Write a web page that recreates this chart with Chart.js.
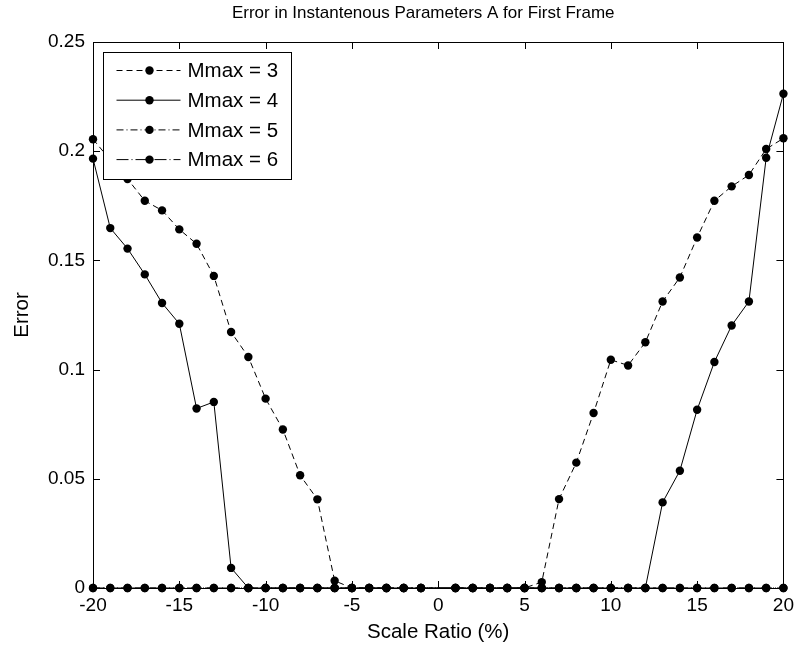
<!DOCTYPE html>
<html>
<head>
<meta charset="utf-8">
<script src="https://cdn.jsdelivr.net/npm/chart.js@4/dist/chart.umd.min.js"></script>
<style>
    html, body {
        margin: 0;
        padding: 0;
        background: #ffffff;
    }

    #wrap {
        width: 800px;
        height: 648px;
    }
</style>
</head>
<body>
<div id="wrap">
    <canvas id="errorChart" width="800" height="648"></canvas>
</div>
<script>
const scaleRatio = [
    -20, -19, -18, -17, -16, -15, -14, -13, -12, -11,
    -10, -9, -8, -7, -6, -5, -4, -3, -2, -1,
    1, 2, 3, 4, 5, 6, 7, 8, 9, 10,
    11, 12, 13, 14, 15, 16, 17, 18, 19, 20
];

const mmax3 = [
    0.2055, 0.196, 0.1873, 0.1773, 0.1729, 0.1642, 0.1576, 0.1429, 0.1172, 0.1058,
    0.0867, 0.0726, 0.0516, 0.0406, 0.0033, 0, 0, 0, 0, 0,
    0, 0, 0, 0, 0, 0.0027, 0.0407, 0.0574, 0.0801, 0.1045,
    0.1019, 0.1125, 0.1312, 0.1422, 0.1605, 0.1773, 0.1839, 0.1891, 0.2010, 0.2059
];

const mmax4 = [
    0.1966, 0.1648, 0.1554, 0.1436, 0.1305, 0.1210, 0.0822, 0.0852, 0.0092, 0,
    0, 0, 0, 0, 0, 0, 0, 0, 0, 0,
    0, 0, 0, 0, 0, 0, 0, 0, 0, 0,
    0, 0, 0.0392, 0.0537, 0.0816, 0.1035, 0.1202, 0.1312, 0.1970, 0.2263
];

const mmax5 = [
    0, 0, 0, 0, 0, 0, 0, 0, 0, 0,
    0, 0, 0, 0, 0, 0, 0, 0, 0, 0,
    0, 0, 0, 0, 0, 0, 0, 0, 0, 0,
    0, 0, 0, 0, 0, 0, 0, 0, 0, 0
];

const mmax6 = [
    0, 0, 0, 0, 0, 0, 0, 0, 0, 0,
    0, 0, 0, 0, 0, 0, 0, 0, 0, 0,
    0, 0, 0, 0, 0, 0, 0, 0, 0, 0,
    0, 0, 0, 0, 0, 0, 0, 0, 0, 0
];

const seriesLabels = ["Mmax = 3", "Mmax = 4", "Mmax = 5", "Mmax = 6"];

const xTicks = [-20, -15, -10, -5, 0, 5, 10, 15, 20];
const xTickLabels = ["-20", "-15", "-10", "-5", "0", "5", "10", "15", "20"];

const yTicks = [0, 0.05, 0.1, 0.15, 0.2, 0.25];
const yTickLabels = ["0", "0.05", "0.1", "0.15", "0.2", "0.25"];

const FONT = "'Liberation Sans', Arial, Helvetica, sans-serif";
const TICK_SIZE = 19;
const LABEL_SIZE = 20.5;
const TITLE_SIZE = 17;
const LEGEND_SIZE = 20.5;

function toPoints(values) {
    return values.map((v, i) => ({ x: scaleRatio[i], y: v }));
}

function makeDataset(label, values, dash) {
    return {
        label: label,
        data: toPoints(values),
        borderColor: "#000000",
        backgroundColor: "#000000",
        borderWidth: 1,
        borderDash: dash,
        pointRadius: 4.2,
        pointHoverRadius: 4.2,
        pointBackgroundColor: "#000000",
        pointBorderColor: "#000000",
        pointBorderWidth: 0,
        tension: 0,
        clip: false
    };
}

// title in the reference sits a little left of the axes centre
const titleShiftPlugin = {
    id: "titleShift",
    afterLayout(chart) {
        if (chart.titleBlock) {
            chart.titleBlock.left = chart.chartArea.left - 30;
        }
    }
};

// matlab-style box, inward ticks on all four sides
const boxPlugin = {
    id: "matlabBox",
    afterDatasetsDraw(chart) {
        const ctx = chart.ctx;
        const area = chart.chartArea;
        const xs = chart.scales.x;
        const ys = chart.scales.y;
        const len = 7;

        ctx.save();
        ctx.strokeStyle = "#000000";
        ctx.lineWidth = 1;
        ctx.setLineDash([]);

        ctx.beginPath();
        xTicks.forEach(v => {
            const px = Math.round(xs.getPixelForValue(v)) + 0.5;
            ctx.moveTo(px, area.bottom);
            ctx.lineTo(px, area.bottom - len);
            ctx.moveTo(px, area.top);
            ctx.lineTo(px, area.top + len);
        });
        yTicks.forEach(v => {
            const py = Math.round(ys.getPixelForValue(v)) + 0.5;
            ctx.moveTo(area.left, py);
            ctx.lineTo(area.left + len, py);
            ctx.moveTo(area.right, py);
            ctx.lineTo(area.right - len, py);
        });
        ctx.stroke();

        ctx.strokeRect(
            Math.round(area.left) + 0.5,
            Math.round(area.top) + 0.5,
            Math.round(area.right - area.left),
            Math.round(area.bottom - area.top)
        );
        ctx.restore();
    }
};

// legend box drawn inside the axes, top left, like matlab
const legendPlugin = {
    id: "insideLegend",
    afterDraw(chart) {
        const ctx = chart.ctx;
        const area = chart.chartArea;
        const boxX = area.left + 10.5;
        const boxY = area.top + 10.5;
        const boxW = 188;
        const boxH = 127;
        const rowH = 29.7;

        ctx.save();
        ctx.fillStyle = "#ffffff";
        ctx.fillRect(boxX, boxY, boxW, boxH);
        ctx.strokeStyle = "#000000";
        ctx.lineWidth = 1;
        ctx.setLineDash([]);
        ctx.strokeRect(boxX, boxY, boxW, boxH);

        chart.data.datasets.forEach((ds, i) => {
            const cy = boxY + 18 + i * rowH;
            const x0 = boxX + 13;
            const x1 = boxX + 77;
            const xm = boxX + 46;

            ctx.strokeStyle = ds.borderColor;
            ctx.lineWidth = ds.borderWidth;
            ctx.setLineDash(ds.borderDash || []);
            ctx.beginPath();
            ctx.moveTo(x0, cy);
            ctx.lineTo(x1, cy);
            ctx.stroke();

            ctx.setLineDash([]);
            ctx.fillStyle = ds.pointBackgroundColor;
            ctx.beginPath();
            ctx.arc(xm, cy, ds.pointRadius, 0, Math.PI * 2);
            ctx.fill();

            ctx.fillStyle = "#000000";
            ctx.font = LEGEND_SIZE + "px " + FONT;
            ctx.textAlign = "left";
            ctx.textBaseline = "middle";
            ctx.fillText(seriesLabels[i], boxX + 84, cy + 1);
        });
        ctx.restore();
    }
};

function createChart() {
    const canvas = document.getElementById("errorChart");

    Chart.defaults.font.family = FONT;
    Chart.defaults.font.size = TICK_SIZE;
    Chart.defaults.color = "#000000";

    new Chart(canvas, {
        type: "line",
        data: {
            datasets: [
                makeDataset(seriesLabels[0], mmax3, [6, 4]),
                makeDataset(seriesLabels[1], mmax4, []),
                makeDataset(seriesLabels[2], mmax5, [7, 3, 1, 3]),
                makeDataset(seriesLabels[3], mmax6, [12, 3, 1, 3])
            ]
        },
        options: {
            responsive: false,
            animation: false,
            devicePixelRatio: 1,
            layout: {
                padding: { left: 0, right: 14, top: 0, bottom: 0 }
            },
            plugins: {
                legend: { display: false },
                tooltip: { enabled: false },
                title: {
                    display: true,
                    fullSize: false,
                    text: "Error in Instantenous Parameters A for First Frame",
                    color: "#000000",
                    font: { size: TITLE_SIZE, weight: "normal" },
                    padding: { top: 3, bottom: 18.6 }
                }
            },
            scales: {
                x: {
                    type: "linear",
                    min: -20,
                    max: 20,
                    afterBuildTicks: scale => {
                        scale.ticks = xTicks.map(v => ({ value: v }));
                    },
                    afterFit: scale => {
                        scale.height = 60;
                    },
                    ticks: {
                        padding: 6,
                        maxRotation: 0,
                        autoSkip: false,
                        callback: (value, index) => xTickLabels[index]
                    },
                    grid: { display: false, drawTicks: false },
                    border: { display: false },
                    title: {
                        display: true,
                        text: "Scale Ratio (%)",
                        color: "#000000",
                        font: { size: LABEL_SIZE },
                        padding: { top: 0, bottom: 3 }
                    }
                },
                y: {
                    type: "linear",
                    min: 0,
                    max: 0.25,
                    afterBuildTicks: scale => {
                        scale.ticks = yTicks.map(v => ({ value: v }));
                    },
                    afterFit: scale => {
                        scale.width = 93;
                    },
                    ticks: {
                        padding: 8,
                        autoSkip: false,
                        callback: (value, index) => yTickLabels[index]
                    },
                    grid: { display: false, drawTicks: false },
                    border: { display: false },
                    title: {
                        display: true,
                        text: "Error",
                        color: "#000000",
                        font: { size: LABEL_SIZE },
                        padding: { top: 10, bottom: 0 }
                    }
                }
            }
        },
        plugins: [titleShiftPlugin, boxPlugin, legendPlugin]
    });
}

createChart();
</script>
</body>
</html>
